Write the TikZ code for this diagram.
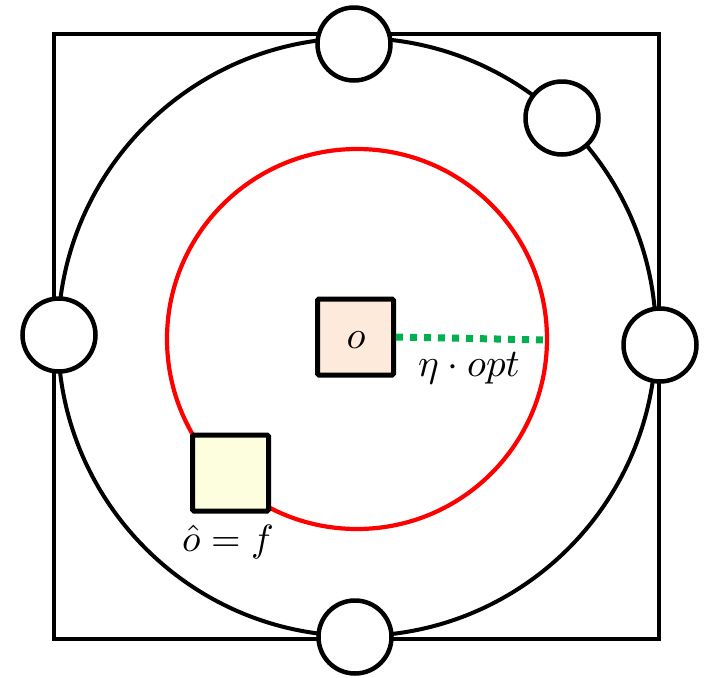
\documentclass[tikz,border=0pt]{standalone}
\usepackage{amsmath}
\usepackage{graphicx}
\definecolor{ored}{HTML}{FF0000}
\definecolor{ogreen}{HTML}{00B050}
\definecolor{ofill}{HTML}{FDEADA}
\definecolor{yfill}{HTML}{FDFEDD}
\tikzset{
  blk/.style={draw=black, line width=4.5pt},
  portnode/.style={circle, draw=black, line width=4.5pt, fill=white, minimum size=73pt, inner sep=0pt},
  boxnode/.style={rectangle, draw=black, line width=5pt, rounded corners=1.5pt, minimum size=76pt, inner sep=0pt},
  lbl/.style={inner sep=0pt}
}
\begin{document}
\begin{tikzpicture}[x=1pt, y=-1pt]
\useasboundingbox (0,0) rectangle (705,678);
% outer square
\draw[blk] (54,34) rectangle (659,639);
% big circle
\node[circle, draw=black, line width=4pt, minimum size=598pt, inner sep=0pt] (big) at (357,337) {};
% red circle
\node[circle, draw=ored, line width=4.2pt, minimum size=380pt, inner sep=0pt] (red) at (357,339) {};
% center box
\node[boxnode, fill=ofill] (o) at (355.5,337) {};
\node[lbl] (olbl) at (356,340) {\scalebox{3.9}{$o$}};
\coordinate (redE) at (547,340);
\draw[ogreen, line width=7pt, dash pattern=on 7pt off 7pt] (o.east) -- (redE);
\node[lbl] (eta) at (469,368) {\scalebox{3.9}{$\eta\cdot opt$}};
% lower-left box
\node[boxnode, fill=yfill] (f) at (230.5,473) {};
\node[lbl] (flbl) at (228,542) {\scalebox{3.8}{$\hat{o}=f$}};
% small circles on the big circle
\node[portnode] (pt) at (354,44) {};
\node[portnode] (pur) at (562,118) {};
\node[portnode] (pl) at (59,335) {};
\node[portnode] (pr) at (660,345) {};
\node[portnode] (pb) at (355,637) {};
\end{tikzpicture}
\end{document}
